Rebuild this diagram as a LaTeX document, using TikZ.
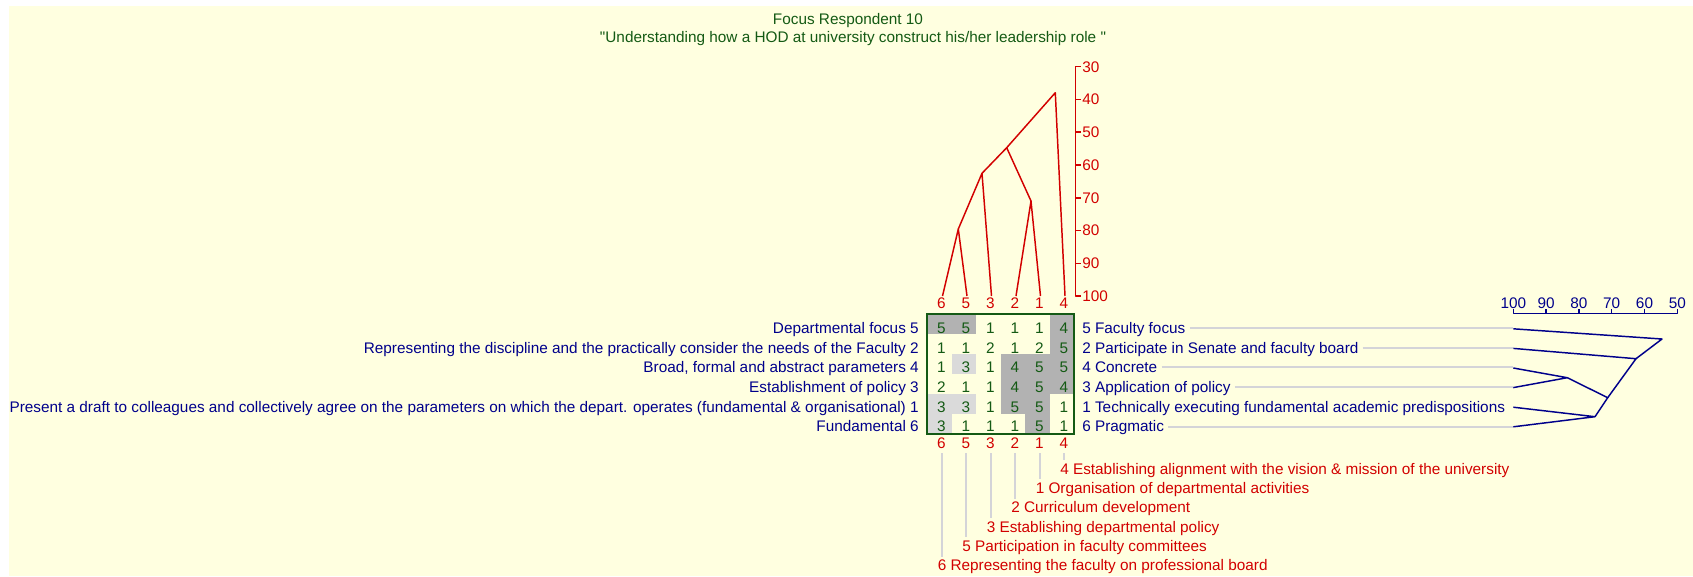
\documentclass[tikz,border=0pt]{standalone}
\usepackage{fontspec}
\setmainfont{Liberation Sans}
\usetikzlibrary{positioning,calc}

\definecolor{bgyel}{RGB}{255,255,224}
\definecolor{elred}{RGB}{210,0,0}
\definecolor{consblue}{RGB}{0,0,139}
\definecolor{gridgreen}{RGB}{20,90,20}
\definecolor{celldark}{RGB}{178,178,178}
\definecolor{celllight}{RGB}{218,218,218}
\definecolor{leadgrey}{RGB}{212,212,216}

\begin{document}
\begin{tikzpicture}[
  x=0.75pt, y=-0.75pt,
  every node/.style={font=\fontsize{11.5}{13}\selectfont, inner sep=0pt, text height=8pt, text depth=0pt},
  elem/.style={text=elred},
  cons/.style={text=consblue},
  num/.style={text=gridgreen},
  dk/.style={fill=celldark},
  lt/.style={fill=celllight},
  tree/.style={line width=1.1pt, line join=round},
  leader/.style={draw=leadgrey, line width=1.5pt}
]

% --- page and background ---
\useasboundingbox (0,0) rectangle (1693,576);
\fill[white] (0,0) rectangle (1693,576);
\fill[bgyel] (9,6) rectangle (1693,576);

% --- title ---
\node[text=gridgreen] (title)    at (848,19.5) {Focus Respondent 10};
\node[text=gridgreen] (subtitle) at (853,36.7) {\textquotedbl Understanding how a HOD at university construct his/her leadership role \textquotedbl};

% --- grid shading (4 and 5 dark, 3 light) ---
\fill[dk] (927,314) rectangle (976,334);
\fill[dk] (1049.5,314) rectangle (1074,394);
\fill[dk] (1000.5,354) rectangle (1049.5,414);
\fill[dk] (1025,414) rectangle (1049.5,434);
\fill[lt] (951.5,354) rectangle (976,374);
\fill[lt] (927,394) rectangle (976,414);
\fill[lt] (927,414) rectangle (951.5,434);
\draw[draw=gridgreen, line width=1.4pt] (927,314) rectangle (1074,434);

% --- ratings ---
\node[num] (g00) at (941.5,328) {5}; \node[num] (g01) at (966,328) {5}; \node[num] (g02) at (990.5,328) {1};
\node[num] (g03) at (1015,328) {1};  \node[num] (g04) at (1039.5,328) {1}; \node[num] (g05) at (1064,328) {4};
\node[num] (g10) at (941.5,347.7) {1}; \node[num] (g11) at (966,347.7) {1}; \node[num] (g12) at (990.5,347.7) {2};
\node[num] (g13) at (1015,347.7) {1};  \node[num] (g14) at (1039.5,347.7) {2}; \node[num] (g15) at (1064,347.7) {5};
\node[num] (g20) at (941.5,367.4) {1}; \node[num] (g21) at (966,367.4) {3}; \node[num] (g22) at (990.5,367.4) {1};
\node[num] (g23) at (1015,367.4) {4};  \node[num] (g24) at (1039.5,367.4) {5}; \node[num] (g25) at (1064,367.4) {5};
\node[num] (g30) at (941.5,387.1) {2}; \node[num] (g31) at (966,387.1) {1}; \node[num] (g32) at (990.5,387.1) {1};
\node[num] (g33) at (1015,387.1) {4};  \node[num] (g34) at (1039.5,387.1) {5}; \node[num] (g35) at (1064,387.1) {4};
\node[num] (g40) at (941.5,406.8) {3}; \node[num] (g41) at (966,406.8) {3}; \node[num] (g42) at (990.5,406.8) {1};
\node[num] (g43) at (1015,406.8) {5};  \node[num] (g44) at (1039.5,406.8) {5}; \node[num] (g45) at (1064,406.8) {1};
\node[num] (g50) at (941.5,426.5) {3}; \node[num] (g51) at (966,426.5) {1}; \node[num] (g52) at (990.5,426.5) {1};
\node[num] (g53) at (1015,426.5) {1};  \node[num] (g54) at (1039.5,426.5) {5}; \node[num] (g55) at (1064,426.5) {1};

% --- element numbers above and below the grid ---
\node[elem] (ct6) at (941.5,303.5) {6}; \node[elem] (ct5) at (966,303.5) {5}; \node[elem] (ct3) at (990.5,303.5) {3};
\node[elem] (ct2) at (1015,303.5) {2};  \node[elem] (ct1) at (1039.5,303.5) {1}; \node[elem] (ct4) at (1064,303.5) {4};
\node[elem] (cb6) at (941.5,443) {6}; \node[elem] (cb5) at (966,443) {5}; \node[elem] (cb3) at (990.5,443) {3};
\node[elem] (cb2) at (1015,443) {2};  \node[elem] (cb1) at (1039.5,443) {1}; \node[elem] (cb4) at (1064,443) {4};

% --- element names ---
\node[elem, anchor=west] (el4) at (1060,469) {4 Establishing alignment with the vision \& mission of the university};
\node[elem, anchor=west] (el1) at (1035.5,488.3) {1 Organisation of departmental activities};
\node[elem, anchor=west] (el2) at (1011,507.6) {2 Curriculum development};
\node[elem, anchor=west] (el3) at (986.5,526.9) {3 Establishing departmental policy};
\node[elem, anchor=west] (el5) at (962,546.2) {5 Participation in faculty committees};
\node[elem, anchor=west] (el6) at (937.5,565.5) {6 Representing the faculty on professional board};

\draw[leader] ([yshift=-3.5pt]cb4.south) -- ([yshift=2.5pt]cb4.south |- el4.north);
\draw[leader] ([yshift=-3.5pt]cb1.south) -- ([yshift=2.5pt]cb1.south |- el1.north);
\draw[leader] ([yshift=-3.5pt]cb2.south) -- ([yshift=2.5pt]cb2.south |- el2.north);
\draw[leader] ([yshift=-3.5pt]cb3.south) -- ([yshift=2.5pt]cb3.south |- el3.north);
\draw[leader] ([yshift=-3.5pt]cb5.south) -- ([yshift=2.5pt]cb5.south |- el5.north);
\draw[leader] ([yshift=-3.5pt]cb6.south) -- ([yshift=2.5pt]cb6.south |- el6.north);

% --- construct poles ---
\node[cons, anchor=east] (lc5) at (919,328) {Departmental focus 5};
\node[cons, anchor=east] (lc2) at (919,347.7) {Representing the discipline and the practically consider the needs of the Faculty 2};
\node[cons, anchor=east] (lc4) at (919,367.4) {Broad, formal and abstract parameters 4};
\node[cons, anchor=east] (lc3) at (919,387.1) {Establishment of policy 3};
\node[cons, anchor=east] (lc1) at (919,406.8) {Present a draft to colleagues and collectively agree on the parameters on which the depart. operates (fundamental \& organisational) 1};
\node[cons, anchor=east] (lc6) at (919,426.5) {Fundamental 6};

\node[cons, anchor=west] (rc5) at (1082,328) {5 Faculty focus};
\node[cons, anchor=west] (rc2) at (1082,347.7) {2 Participate in Senate and faculty board};
\node[cons, anchor=west] (rc4) at (1082,367.4) {4 Concrete};
\node[cons, anchor=west] (rc3) at (1082,387.1) {3 Application of policy};
\node[cons, anchor=west] (rc1) at (1082,406.8) {1 Technically executing fundamental academic predispositions};
\node[cons, anchor=west] (rc6) at (1082,426.5) {6 Pragmatic};

% --- element tree (top) ---
\draw[tree, draw=elred] (1080.5,66.7) -- (1075.7,66.7) -- (1075.7,296) -- (1080.5,296)
  (1075.7,99.5) -- (1080.5,99.5) (1075.7,132.2) -- (1080.5,132.2) (1075.7,165) -- (1080.5,165)
  (1075.7,197.8) -- (1080.5,197.8) (1075.7,230.5) -- (1080.5,230.5) (1075.7,263.3) -- (1080.5,263.3);
\node[elem, anchor=west] (ax30)  at (1082,66.7) {30};
\node[elem, anchor=west] (ax40)  at (1082,99.5) {40};
\node[elem, anchor=west] (ax50)  at (1082,132.2) {50};
\node[elem, anchor=west] (ax60)  at (1082,165) {60};
\node[elem, anchor=west] (ax70)  at (1082,197.8) {70};
\node[elem, anchor=west] (ax80)  at (1082,230.5) {80};
\node[elem, anchor=west] (ax90)  at (1082,263.3) {90};
\node[elem, anchor=west] (ax100) at (1082,296) {100};

\coordinate (t6) at (942.5,296);
\coordinate (t5) at (967,296);
\coordinate (t3) at (991.5,296);
\coordinate (t2) at (1016,296);
\coordinate (t1) at (1040.5,296);
\coordinate (t4) at (1065,296);
\coordinate (m65)   at (958.3,229);
\coordinate (m653)  at (982,173.3);
\coordinate (m21)   at (1031,201);
\coordinate (m6532) at (1006.7,147.7);
\coordinate (mall)  at (1055.3,92.7);
\draw[tree, draw=elred] (t6) -- (m65) -- (t5);
\draw[tree, draw=elred] (m65) -- (m653) -- (t3);
\draw[tree, draw=elred] (t2) -- (m21) -- (t1);
\draw[tree, draw=elred] (m653) -- (m6532) -- (m21);
\draw[tree, draw=elred] (m6532) -- (mall) -- (t4);

% --- construct tree (right) ---
\draw[tree, draw=consblue] (1513.3,309) -- (1513.3,313.3) -- (1677.3,313.3) -- (1677.3,309)
  (1546.1,313.3) -- (1546.1,309) (1578.9,313.3) -- (1578.9,309)
  (1611.7,313.3) -- (1611.7,309) (1644.5,313.3) -- (1644.5,309);
\node[cons] (bx100) at (1513.3,303.5) {100};
\node[cons] (bx90)  at (1546.1,303.5) {90};
\node[cons] (bx80)  at (1578.9,303.5) {80};
\node[cons] (bx70)  at (1611.7,303.5) {70};
\node[cons] (bx60)  at (1644.5,303.5) {60};
\node[cons] (bx50)  at (1677.3,303.5) {50};

\coordinate (r5) at (1513.3,328.8);
\coordinate (r2) at (1513.3,348.4);
\coordinate (r4) at (1513.3,368);
\coordinate (r3) at (1513.3,387.6);
\coordinate (r1) at (1513.3,407.2);
\coordinate (r6) at (1513.3,426.8);
\coordinate (n43)   at (1567.3,377.7);
\coordinate (n16)   at (1595,416.7);
\coordinate (n4316) at (1607.7,397.7);
\coordinate (n2r)   at (1636,358.7);
\coordinate (nall)  at (1662,339);

\draw[leader] ([xshift=3pt]rc5.east) -- (rc5.east -| r5);
\draw[leader] ([xshift=3pt]rc2.east) -- (rc2.east -| r2);
\draw[leader] ([xshift=3pt]rc4.east) -- (rc4.east -| r4);
\draw[leader] ([xshift=3pt]rc3.east) -- (rc3.east -| r3);
\draw[leader] ([xshift=3pt]rc6.east) -- (rc6.east -| r6);

\draw[tree, draw=consblue] (r4) -- (n43) -- (r3);
\draw[tree, draw=consblue] (r1) -- (n16) -- (r6);
\draw[tree, draw=consblue] (n43) -- (n4316) -- (n16);
\draw[tree, draw=consblue] (r2) -- (n2r) -- (n4316);
\draw[tree, draw=consblue] (r5) -- (nall) -- (n2r);

\end{tikzpicture}
\end{document}
